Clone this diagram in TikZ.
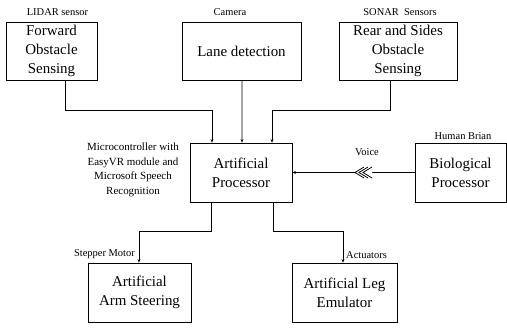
\documentclass[tikz,border=0pt]{standalone}
\usepackage{fontspec}
\setmainfont{Liberation Serif}
\usetikzlibrary{arrows.meta}

\tikzset{
  block/.style={draw, line width=0.8bp, align=center, font=\fontsize{15}{19}\selectfont,
    minimum height=58bp, inner sep=0pt},
  tag/.style={font=\fontsize{10.5}{14.7}\selectfont, inner sep=0pt, align=center},
  link/.style={line width=0.8bp},
  feed/.style={line width=0.8bp, -{Stealth[length=3.5bp,width=3bp]}}
}

\begin{document}
\begin{tikzpicture}[x=1bp,y=1bp]
    \useasboundingbox (0,0) rectangle (507,-328);

    % Sensing blocks
    \node [block, minimum width=91bp] (lidar) at (51.5,-51) {Forward\\Obstacle\\Sensing};
    \node [block, minimum width=119bp] (lane) at (241.5,-51) {Lane detection};
    \node [block, minimum width=118bp] (sonar) at (398,-51) {Rear and Sides\\Obstacle\\Sensing};

    % Processors
    \node [block, minimum width=102bp, minimum height=59bp] (proc) at (241,-172.5) {Artificial\\Processor};
    \node [block, minimum width=91bp, minimum height=59bp] (bio) at (460.5,-172.5) {Biological\\Processor};

    % Outputs
    \node [block, minimum width=103bp, minimum height=59bp] (arm) at (139.5,-292.5) {Artificial\\Arm Steering};
    \node [block, minimum width=105bp, minimum height=59bp] (leg) at (344.5,-292.5) {Artificial Leg\\Emulator};

    % Labels
    \node [tag] (lidartag) at (57.5,-12) {LIDAR sensor};
    \node [tag] (camtag) at (230,-12) {Camera};
    \node [tag] (sonartag) at (400,-12) {SONAR\ \ Sensors};
    \node [tag] (brain) at (463,-136) {Human Brian};
    \node [tag] (voice) at (367,-152) {Voice};
    \node [tag, font=\fontsize{11}{14.7}\selectfont] (mcu) at (133,-170) {Microcontroller with\\EasyVR module and\\Microsoft Speech\\Recognition};
    \node [tag, anchor=east] (motor) at (135,-254) {Stepper Motor};
    \node [tag, anchor=west] (act) at (346,-255) {Actuators};

    % Inputs to the processor
    \draw [feed] ([xshift=13.5bp]lidar.south) -- ++(0,-30) -| ([xshift=-29bp]proc.north);
    \draw [feed] ([xshift=0.5bp]lane.south) -- ([xshift=1bp]proc.north);
    \draw [feed] ([xshift=-8bp]sonar.south) -- ++(0,-30) -| ([xshift=31bp]proc.north);
    \draw [feed] (bio.west) -- (proc.east);

    % Voice marks
    \coordinate (v) at (355,-172.5);
    \foreach \d in {0,4,8}
      \draw [link, fill=white] ([xshift=\d bp]v) ++(9,5.5) -- ++(-9,-5.5) -- ++(9,-5.5);

    % Outputs of the processor
    \draw [feed] ([xshift=-30bp]proc.south) -- ++(0,-29) -| ([xshift=-0.5bp]arm.north);
    \draw [feed] ([xshift=32bp]proc.south) -- ++(0,-29) -| ([xshift=-1.5bp]leg.north);

\end{tikzpicture}
\end{document}
